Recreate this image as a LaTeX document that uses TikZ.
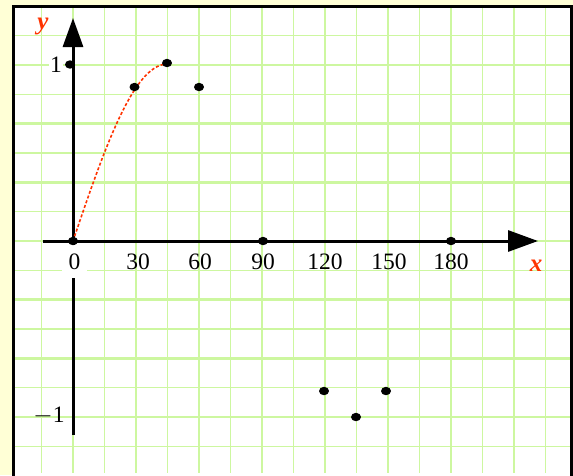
\documentclass[tikz,border=0pt]{standalone}
\usepackage{fontspec}
\setmainfont{Liberation Serif}
\usetikzlibrary{arrows.meta,shapes.geometric}
\definecolor{bgyellow}{RGB}{255,255,214}
\definecolor{gridgreen}{RGB}{205,247,160}
\definecolor{labred}{RGB}{255,51,0}
\begin{document}
\begin{tikzpicture}[x=1pt,y=-1pt,
  thinline/.style={gridgreen,line width=1.5pt},
  thickline/.style={gridgreen,line width=2.6pt},
  axis/.style={black,line width=3pt},
  dot/.style={ellipse,fill=black,inner sep=0pt,minimum width=10pt,minimum height=8.4pt},
  num/.style={inner sep=0pt,font=\fontsize{23.5}{23.5}\selectfont},
  axlab/.style={inner sep=0pt,text=labred,font=\fontsize{25}{25}\selectfont\bfseries\itshape}]
\useasboundingbox (0,0) rectangle (573,475);
\fill[bgyellow] (0,0) rectangle (573,475);
\fill[white] (13.5,6.5) rectangle (571.5,480);
% grid
\foreach \k in {-1,...,15}{
  \pgfmathtruncatemacro{\ev}{mod(\k+2,2)}
  \ifnum\ev=0
    \draw[thickline] ({73+31.5*\k},6.5) -- ({73+31.5*\k},473);
  \else
    \draw[thinline] ({73+31.5*\k},6.5) -- ({73+31.5*\k},473);
  \fi}
\foreach \k in {-7,...,7}{
  \pgfmathtruncatemacro{\ev}{mod(\k+8,2)}
  \ifnum\ev=0
    \draw[thickline] (13.5,{241+29.333*\k}) -- (571.5,{241+29.333*\k});
  \else
    \draw[thinline] (13.5,{241+29.333*\k}) -- (571.5,{241+29.333*\k});
  \fi}
\draw[black,line width=3.2pt] (13.5,480) -- (13.5,6.5) -- (571.5,6.5) -- (571.5,480);
% axes
\coordinate (xs) at (43,241);
\coordinate (xe) at (538,241);
\coordinate (ys) at (73,435);
\coordinate (ye) at (73,18);
\draw[axis,-{Triangle[length=30pt,width=21pt]}] (xs) -- (xe);
\draw[axis,-{Triangle[length=29pt,width=20pt]}] (ys) -- (ye);
% labels
\node[num,fill=white,minimum width=25pt,minimum height=33pt] (l0) at (74.5,261.5) {0};
\node[num] (l30) at (138,262) {30};
\node[num] (l60) at (200,262) {60};
\node[num] (l90) at (263,262) {90};
\node[num] (l120) at (325,262) {120};
\node[num] (l150) at (389,262) {150};
\node[num] (l180) at (451,262) {180};
\node[num,fill=white,inner sep=1pt] (l1) at (56,65) {1};
\node[num] (lm1) at (49,416) {$-$1};
\node[axlab] (ly) at (43,26) {y};
\node[axlab] (lx) at (536,266) {x};
% curve
\draw[labred,line width=1.6pt,dash pattern=on 3pt off 2pt]
  plot[domain=0:45,samples=40,smooth] ({73+2.1*\x},{241-177*sin(2*\x)});
% dots
\node[dot] (p1) at (70,64.5) {};
\node[dot] (d0) at (73,241) {};
\node[dot] (d30) at (134.5,87) {};
\node[dot] (d45) at (167,63) {};
\node[dot] (d60) at (199,87) {};
\node[dot] (d90) at (263,241) {};
\node[dot] (d120) at (324,391) {};
\node[dot] (d135) at (356,417) {};
\node[dot] (d150) at (386,391) {};
\node[dot] (d180) at (451,241) {};
\end{tikzpicture}
\end{document}
